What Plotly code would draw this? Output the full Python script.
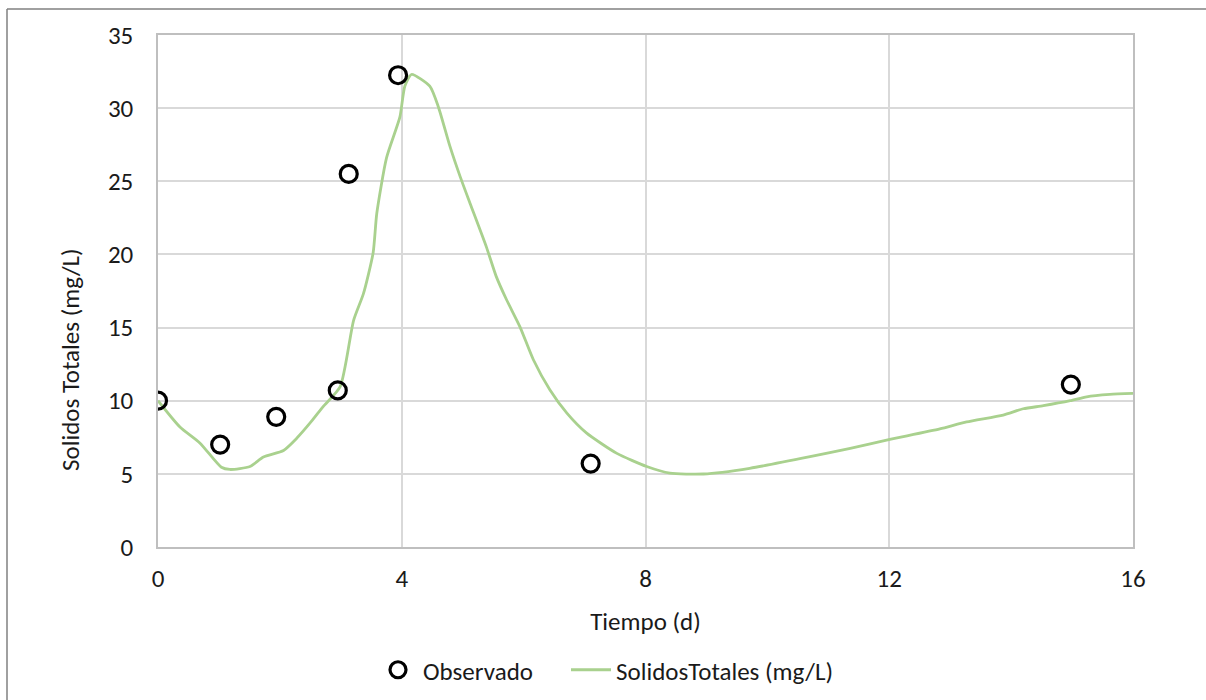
import plotly.graph_objects as go

# Observed data
obs_t = [0.0, 1.02, 1.94, 2.95, 3.13, 3.94, 7.10, 14.98]
obs_y = [10.0, 7.0, 8.9, 10.7, 25.5, 32.25, 5.7, 11.1]

# Simulated curve
sim_t = [0, 0.36, 0.69, 1.04, 1.18, 1.51, 1.73, 2.06, 2.28, 2.52, 2.71, 2.99,
         3.21, 3.37, 3.53, 3.59, 3.75, 3.97, 4.05, 4.16, 4.46, 4.6, 4.79, 4.96,
         5.12, 5.39, 5.55, 5.72, 5.94, 6.16, 6.43, 6.71, 7.03, 7.53, 8.02, 8.4,
         8.95, 9.71, 10.7, 11.36, 12.01, 12.83, 13.27, 13.87, 14.2, 14.53, 14.97,
         15.24, 15.62, 16.0]
sim_y = [10.0, 8.2, 7.1, 5.45, 5.3, 5.5, 6.15, 6.6, 7.45, 8.6, 9.6, 10.96,
         15.5, 17.3, 20.1, 22.8, 26.6, 29.4, 31.5, 32.3, 31.5, 30.1, 27.4, 25.3,
         23.5, 20.5, 18.5, 16.9, 15.05, 12.8, 10.75, 9.15, 7.8, 6.4, 5.5, 5.05,
         4.99, 5.38, 6.17, 6.75, 7.35, 8.07, 8.55, 9.02, 9.45, 9.66, 10.0,
         10.27, 10.43, 10.5]

x_ticks = [0, 4, 8, 12, 16]
y_ticks = [0, 5, 10, 15, 20, 25, 30, 35]

FONT = "Carlito, Calibri, Lato, sans-serif"
FS = 25
FC = "#1a1a1a"

fig = go.Figure()
fig.add_trace(go.Scatter(
    x=sim_t, y=sim_y, mode="lines", name="SolidosTotales (mg/L)",
    line=dict(color="#A9D18E", width=2.8, shape="spline", smoothing=0.6),
    legend="legend2",
))
fig.add_trace(go.Scatter(
    x=obs_t, y=obs_y, mode="markers", name="Observado",
    marker=dict(symbol="circle-open", size=17, color="black",
                line=dict(color="black", width=3.2)),
    legend="legend",
))

L, R, T, B = 158, 73, 35, 153
W, H = 1206, 700
pw, ph = W - L - R, H - T - B

def px_x(p):
    return (p - L) / pw

def px_y(p):
    return (H - B - p) / ph

leg_common = dict(orientation="h", xanchor="left", y=px_y(670),
                  yanchor="middle", bgcolor="rgba(0,0,0,0)",
                  font=dict(family=FONT, size=FS, color=FC), itemwidth=40)

fig.update_layout(
    width=W, height=H,
    margin=dict(l=L, r=R, t=T, b=B, autoexpand=False),
    paper_bgcolor="white", plot_bgcolor="white",
    font=dict(family=FONT, size=FS, color=FC),
    showlegend=True,
    legend=dict(x=px_x(373), **leg_common),
    legend2=dict(x=px_x(566), **leg_common),
    xaxis=dict(range=[0, 16], tickvals=x_ticks, showgrid=True,
               gridcolor="#D9D9D9", gridwidth=1.5, zeroline=False,
               showline=True, linecolor="#BFBFBF", linewidth=1.5, mirror=True,
               ticks="", ticklabelstandoff=8, automargin=False,
               tickfont=dict(family=FONT, size=FS, color=FC),
               title=dict(text="Tiempo (d)", standoff=20,
                          font=dict(family=FONT, size=FS, color=FC))),
    yaxis=dict(range=[0, 35], tickvals=y_ticks, showgrid=True,
               gridcolor="#D9D9D9", gridwidth=1.5, zeroline=False,
               showline=True, linecolor="#BFBFBF", linewidth=1.5, mirror=True,
               ticks="", ticklabelstandoff=18, automargin=False,
               tickfont=dict(family=FONT, size=FS, color=FC)),
    annotations=[dict(text="Solidos Totales (mg/L)", textangle=-90,
                      xref="paper", yref="paper", x=px_x(70), y=px_y(360),
                      showarrow=False, xanchor="center", yanchor="middle",
                      font=dict(family=FONT, size=FS, color=FC))],
    shapes=[
        dict(type="line", xref="paper", yref="paper",
             x0=px_x(7), y0=px_y(9), x1=px_x(1206), y1=px_y(9),
             line=dict(color="#808080", width=1.5)),
        dict(type="line", xref="paper", yref="paper",
             x0=px_x(7), y0=px_y(9), x1=px_x(7), y1=px_y(700),
             line=dict(color="#808080", width=1.5)),
    ],
)

fig.write_html("out.html")
